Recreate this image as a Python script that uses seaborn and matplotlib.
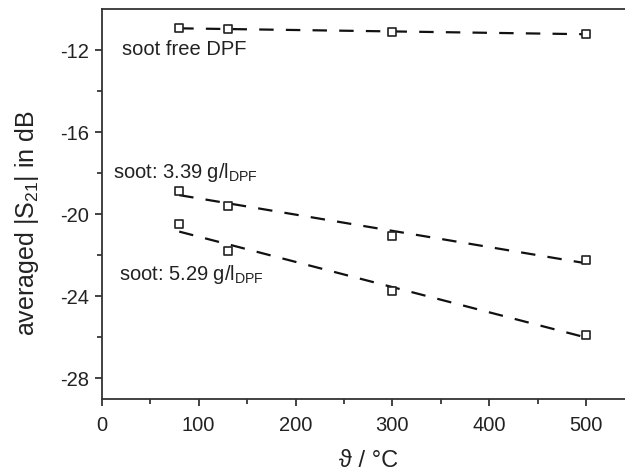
import numpy as np
import pandas as pd
import matplotlib
matplotlib.use("Agg")
import matplotlib.pyplot as plt
import seaborn as sns

temperature = [80, 130, 300, 500]
soot_free = [-10.93, -10.98, -11.11, -11.22]
soot_339 = [-18.85, -19.58, -21.05, -22.25]
soot_529 = [-20.47, -21.77, -23.76, -25.86]
series_names = ["soot free DPF", "soot: 3.39 g/l$_\\mathrm{DPF}$", "soot: 5.29 g/l$_\\mathrm{DPF}$"]
x_ticks = [0, 100, 200, 300, 400, 500]
y_ticks = [-28, -24, -20, -16, -12]

sns.set_theme(style="ticks")
plt.rcParams['font.family'] = ['Liberation Sans', 'DejaVu Sans']
plt.rcParams['mathtext.fontset'] = 'custom'
plt.rcParams['mathtext.rm'] = 'Liberation Sans'
plt.rcParams['mathtext.it'] = 'Liberation Sans:italic'
plt.rcParams['axes.unicode_minus'] = False

fig = plt.figure(figsize=(6.25, 4.76), dpi=100)
ax = fig.add_axes([0.1627, 0.1618, 0.8373, 0.8193])

fs = 14.5
for vals in [soot_free, soot_339, soot_529]:
    df = pd.DataFrame({"T": temperature, "S": vals})
    sns.regplot(data=df, x="T", y="S", ax=ax, ci=None, truncate=True, marker="s",
                color="black",
                scatter_kws=dict(facecolors="white", edgecolors="#222222", s=38,
                                 linewidths=1.2, alpha=1, zorder=3),
                line_kws=dict(color="#111111", lw=1.6, dashes=(6.5, 5.5), zorder=2))

ax.text(21, -12.24, series_names[0], fontsize=fs, color="#222222", va="baseline")
ax.text(11.3, -18.22, series_names[1], fontsize=fs, color="#222222", va="baseline")
ax.text(18, -23.22, series_names[2], fontsize=fs, color="#222222", va="baseline")

ax.set_xlim(0, 540)
ax.set_ylim(-29, -10)
ax.set_xticks(x_ticks)
ax.set_yticks(y_ticks)
ax.set_xticks(np.arange(50, 540, 100), minor=True)
ax.set_yticks(np.arange(-26, -10, 4), minor=True)
ax.tick_params(axis="both", which="major", direction="out", length=5, width=1.2,
               labelsize=fs, colors="#222222")
ax.tick_params(axis="x", which="major", pad=7)
ax.tick_params(axis="y", which="major", pad=4)
ax.tick_params(axis="both", which="minor", direction="out", length=3.5, width=1.2)
ax.set_xlabel("ϑ / °C", fontsize=17, color="#222222", va="center", ha="center")
ax.set_ylabel("averaged |S$_{21}$| in dB", fontsize=18, color="#222222",
              va="center", ha="center")
ax.xaxis.set_label_coords(0.51, -0.159)
ax.yaxis.set_label_coords(-0.143, 0.45)

ax.spines["right"].set_visible(False)
for s in ["left", "bottom", "top"]:
    ax.spines[s].set_linewidth(1.3)
    ax.spines[s].set_color("#333333")

fig.savefig("out.png", dpi=100)
